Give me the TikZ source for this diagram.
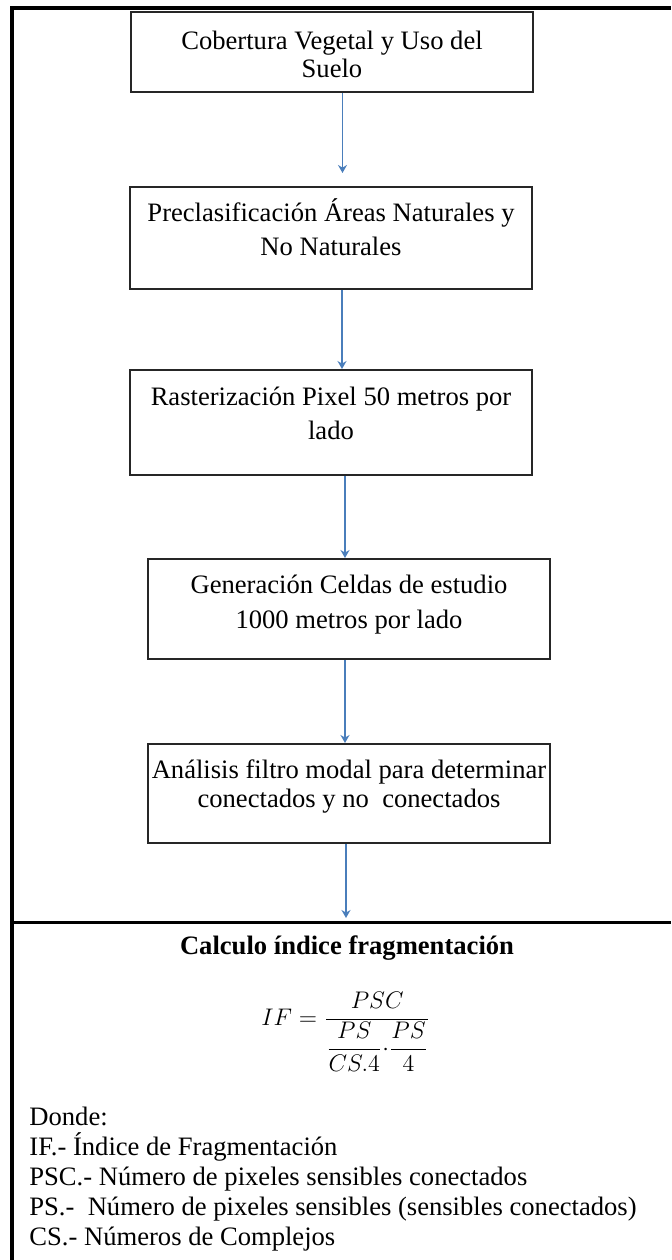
\documentclass[tikz,border=0pt]{standalone}
\usepackage{fontspec}
\setmainfont{Liberation Serif}
\usepackage{amsmath}
\usetikzlibrary{arrows.meta}
\definecolor{flechaazul}{RGB}{74,126,187}
\newcommand{\letra}[1]{\fontsize{13.3}{#1}\selectfont}
\begin{document}
\begin{tikzpicture}[x=0.5pt,y=-0.5pt,
  caja/.style={draw=black!85, line width=1pt, align=center, inner sep=0pt,
    minimum width=201pt, anchor=north west},
  flecha/.style={draw=flechaazul, line width=0.8pt, -{Stealth[length=4pt,width=4.5pt]}}]
\useasboundingbox (0,0) rectangle (671,1260);

% Marco
\draw[line width=1.7pt, line join=miter] (12,1260) -- (12,8) -- (671,8);
\draw[line width=1.5pt] (12,922) -- (671,922);

% Cajas
\node[caja, text height=32.5pt, text depth=7.5pt, font=\letra{14}] (cobertura) at (130,11)
  {Cobertura Vegetal y Uso del\\Suelo};
\node[caja, text height=34pt, text depth=17pt, font=\letra{17}] (preclas) at (129,186)
  {Preclasificación Áreas Naturales y\\No Naturales};
\node[caja, text height=34.5pt, text depth=18pt, font=\letra{17}] (raster) at (129,369)
  {Rasterización Pixel 50 metros por\\lado};
\node[caja, text height=34.5pt, text depth=15.5pt, font=\letra{17.5}] (celdas) at (147,558)
  {Generación Celdas de estudio\\1000 metros por lado};
\node[caja, text height=31.5pt, text depth=18pt, font=\letra{14.5}] (filtro) at (147,743)
  {Análisis filtro modal para determinar\\conectados y no\ \ conectados};
\coordinate (calculo) at (346,922);

% Flechas
\draw[flecha, shorten >=6.5pt] ([xshift=5.25pt]cobertura.south) -- ([xshift=5.25pt]cobertura.south |- preclas.north);
\draw[flecha] ([xshift=5.5pt]preclas.south) -- ([xshift=5.5pt]preclas.south |- raster.north);
\draw[flecha] ([xshift=7pt]raster.south) -- ([xshift=7pt]raster.south |- celdas.north);
\draw[flecha] ([xshift=-2pt]celdas.south) -- ([xshift=-2pt]celdas.south |- filtro.north);
\draw[flecha, shorten >=2pt] ([xshift=-1.5pt]filtro.south) -- ([xshift=-1.5pt]filtro.south |- calculo);

% Calculo
\node[font=\letra{16}\bfseries] (titulo) at (347,948) {Calculo índice fragmentación};
\node[font=\fontsize{12.8}{14}\selectfont] (formula) at (346,1032)
  {$\displaystyle IF=\frac{PSC}{\dfrac{PS}{CS.4}{\cdot}\dfrac{PS}{4}}$};
\node[font=\letra{15}, align=left, anchor=north west, inner sep=0pt] (donde) at (29,1107)
  {Donde:\\
   IF.- Índice de Fragmentación\\
   PSC.- Número de pixeles sensibles\ conectados\\
   PS.-\ \ Número de pixeles sensibles\ (sensibles\ conectados)\\
   CS.- Números de Complejos};
\end{tikzpicture}
\end{document}
